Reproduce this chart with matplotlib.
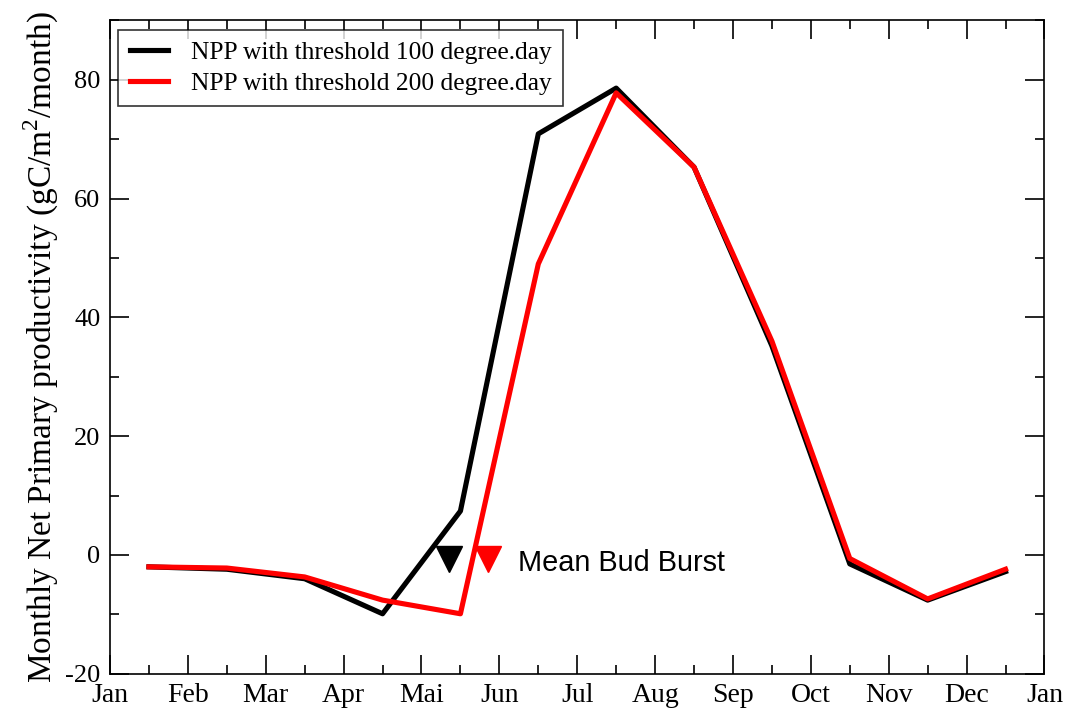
import numpy as np
import matplotlib
matplotlib.use('Agg')
from matplotlib import pyplot as plt
from matplotlib.ticker import MultipleLocator

months = ['Jan', 'Feb', 'Mar', 'Apr', 'Mai', 'Jun', 'Jul', 'Aug', 'Sep', 'Oct', 'Nov', 'Dec', 'Jan']
# mid-month positions (in months from 1 Jan)
month_mid = [0.5, 1.5, 2.5, 3.5, 4.5, 5.5, 6.5, 7.5, 8.5, 9.5, 10.5, 11.5]
npp_100 = [-2.0, -2.4, -4.0, -9.9, 7.4, 70.9, 78.6, 65.3, 35.2, -1.5, -7.6, -2.8]
npp_200 = [-2.0, -2.2, -3.7, -7.6, -9.9, 49.0, 77.8, 65.3, 36.0, -0.6, -7.4, -2.4]
budburst_100 = 4.35
budburst_200 = 4.86
budburst_y = -0.7

plt.rcParams['font.family'] = ['Liberation Serif', 'DejaVu Serif']
plt.rcParams['mathtext.fontset'] = 'custom'
plt.rcParams['mathtext.rm'] = 'Liberation Serif'
plt.rcParams['axes.unicode_minus'] = False

fig = plt.figure(figsize=(10.66, 7.09), dpi=100)
ax = fig.add_axes([0.1032, 0.0497, 0.8766, 0.9215])

ax.plot(month_mid, npp_100, color='black', lw=3.7, label='NPP with threshold 100 degree.day')
ax.plot(month_mid, npp_200, color='red', lw=3.7, label='NPP with threshold 200 degree.day')

ax.plot([budburst_100], [budburst_y], marker='v', color='black', ms=19, ls='none')
ax.plot([budburst_200], [budburst_y], marker='v', color='red', ms=19, ls='none')
ax.text(5.24, -1.3, 'Mean Bud Burst', family='Liberation Sans', fontsize=20.8, va='center', ha='left')

ax.set_xlim(0, 12)
ax.set_ylim(-20, 90)
ax.set_xticks(range(13))
ax.set_xticklabels(months)
ax.xaxis.set_minor_locator(MultipleLocator(0.5))
ax.set_yticks([-20, 0, 20, 40, 60, 80])
ax.yaxis.set_minor_locator(MultipleLocator(10))

ax.tick_params(which='both', direction='in', top=True, right=True, width=1.2)
ax.tick_params(axis='x', labelsize=20)
ax.tick_params(axis='y', labelsize=19)
ax.tick_params(which='major', length=13.5, pad=7)
ax.tick_params(which='minor', length=6.8)
for sp in ax.spines.values():
    sp.set_linewidth(1.2)

ax.set_ylabel('Monthly Net Primary productivity (gC/m$^{2}$/month)', fontsize=24, labelpad=3)

leg = ax.legend(loc='upper left', bbox_to_anchor=(0.0086, 0.9853), borderaxespad=0,
                fontsize=18.4, frameon=True, fancybox=False, handlelength=1.5,
                handletextpad=0.9, borderpad=0.45, labelspacing=0.3)
leg.get_frame().set_edgecolor('black')
leg.get_frame().set_linewidth(1.2)

fig.savefig('out.png', dpi=100)
